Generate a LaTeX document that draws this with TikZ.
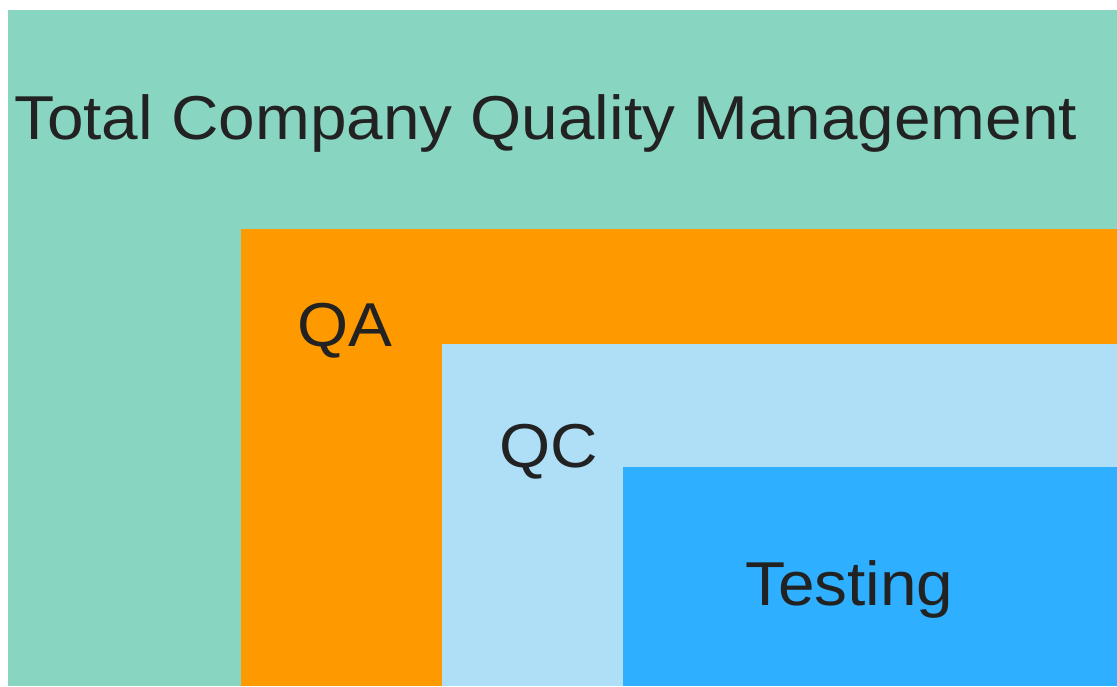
\documentclass[tikz,border=0pt]{standalone}
\usepackage{fontspec}
\setmainfont{Liberation Sans}
\newfontfamily\diagramfont{Liberation Sans}[FakeStretch=1.06]
\definecolor{tqmgreen}{HTML}{88D6C1}
\definecolor{qaorange}{HTML}{FF9900}
\definecolor{qclight}{HTML}{AEDFF7}
\definecolor{testblue}{HTML}{2EAFFF}
\definecolor{labelgray}{HTML}{222222}
\tikzset{label text/.style={anchor=base west,inner sep=0pt,text=labelgray,font=\diagramfont\fontsize{62}{70}\selectfont}}
\begin{document}
\begin{tikzpicture}[x=1pt,y=-1pt]
\useasboundingbox (0,0) rectangle (1117,687);
\fill[white] (0,0) rectangle (1117,687);
\begin{scope}
    \fill[tqmgreen] (8,10) rectangle (1117,686);
    \fill[qaorange] (241,229) rectangle (1117,686);
    \fill[qclight] (442,344) rectangle (1117,686);
    \fill[testblue] (623,467) rectangle (1117,686);
\end{scope}
\node[label text] (tqm) at (14,140) {Total Company Quality Management};
\node[label text] (qa) at (297,346) {QA};
\node[label text] (qc) at (499,467) {QC};
\node[label text] (testing) at (745,605) {Testing};
\end{tikzpicture}
\end{document}
